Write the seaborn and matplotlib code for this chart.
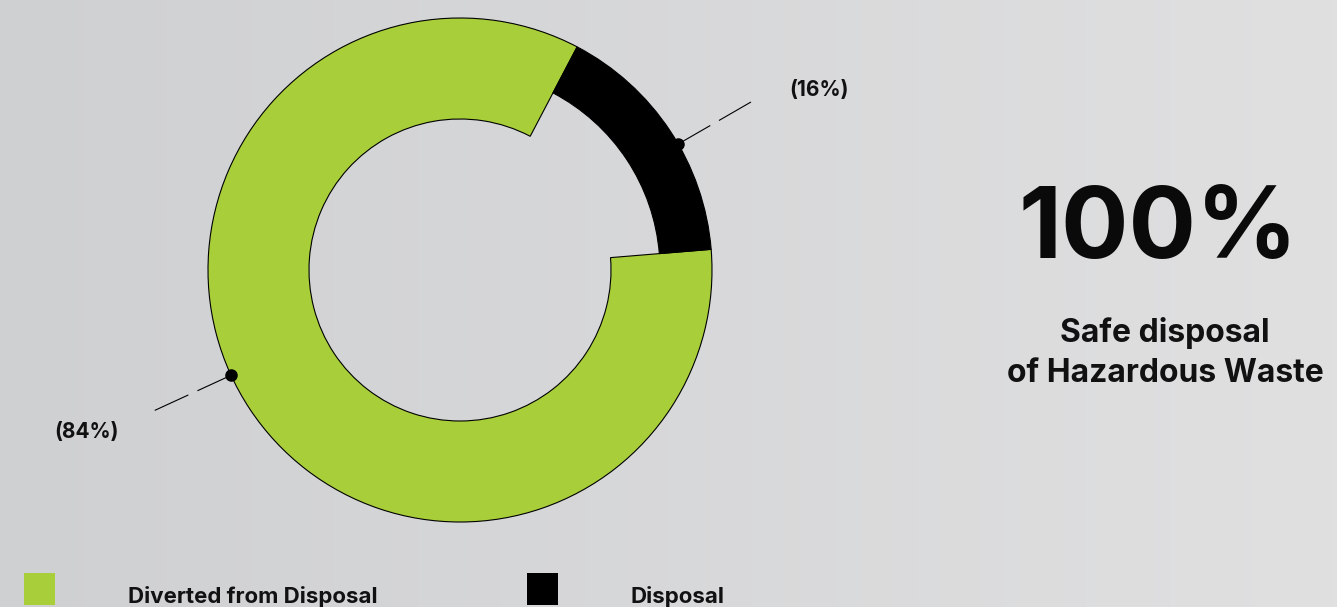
import numpy as np
import matplotlib
matplotlib.use("Agg")
import matplotlib.pyplot as plt
from matplotlib.patches import Rectangle
from matplotlib.colors import LinearSegmentedColormap
import seaborn as sns

# ---- data ----
categories = ["Diverted from Disposal", "Disposal"]
values = [84, 16]
pct_labels = ["(84%)", "(16%)"]
colors = ["#a8cf3a", "#000000"]
headline = "100%"
subtitle_lines = ["Safe disposal", "of Hazardous Waste"]

sns.set_theme(style="white")
plt.rcParams["font.family"] = ["Inter", "DejaVu Sans"]

W, H = 1337, 607
fig = plt.figure(figsize=(W / 100, H / 100), dpi=100)
ax = fig.add_axes([0, 0, 1, 1])

# background gradient
cmap = LinearSegmentedColormap.from_list("bg", ["#cfd0d2", "#e0e0e1"])
grad = np.linspace(0, 1, 256).reshape(1, -1)
ax.imshow(grad, cmap=cmap, extent=[0, W, 0, H], aspect="auto", zorder=0)

def py(y):
    return H - y

cx, cy = 460, py(270)
R = 252
widths = [101, 52]

wedges, _ = ax.pie(values, colors=colors, center=(cx, cy), radius=R,
                   startangle=62.3, counterclock=True,
                   wedgeprops=dict(edgecolor="black", linewidth=0.8))
for w, wd in zip(wedges, widths):
    w.set_width(wd)
    w.set_zorder(2)
ax.set_xlim(0, W)
ax.set_ylim(0, H)
ax.set_aspect("equal")
ax.axis("off")

# leader lines with dots
ann_angles = [204.7, 30.0]
label_pos = [(87, py(432)), (819, py(90))]
for ang, lab, (lx, ly) in zip(ann_angles, pct_labels, label_pos):
    t = np.deg2rad(ang)
    ux, uy = np.cos(t), np.sin(t)
    x0, y0 = cx + R * ux, cy + R * uy
    for a, b in [(0, 37), (47, 84)]:
        ax.plot([x0 + a * ux, x0 + b * ux], [y0 + a * uy, y0 + b * uy],
                color="black", lw=0.8, zorder=3, solid_capstyle="butt")
    ax.plot([x0], [y0], "o", color="black", ms=8, zorder=4)
    ax.text(lx, ly, lab, ha="center", va="center", fontsize=15,
            fontweight="bold", color="#111111", zorder=5)

# headline
ax.text(1158, py(258), headline, ha="center", va="baseline", fontsize=72,
        fontweight="bold", color="#0a0a0a")
for line, base in zip(subtitle_lines, [342, 382]):
    ax.text(1165, py(base), line, ha="center", va="baseline", fontsize=23,
            fontweight="bold", color="#111111")

# legend
leg_x = [24, 527]
for x, c, name in zip(leg_x, colors, categories):
    ax.add_patch(Rectangle((x, py(605)), 31, 32, facecolor=c, edgecolor="none", zorder=3))
    ax.text(x + 104, py(603), name, ha="left", va="baseline", fontsize=16,
            fontweight="bold", color="#111111")

fig.savefig("out.png", dpi=100)
